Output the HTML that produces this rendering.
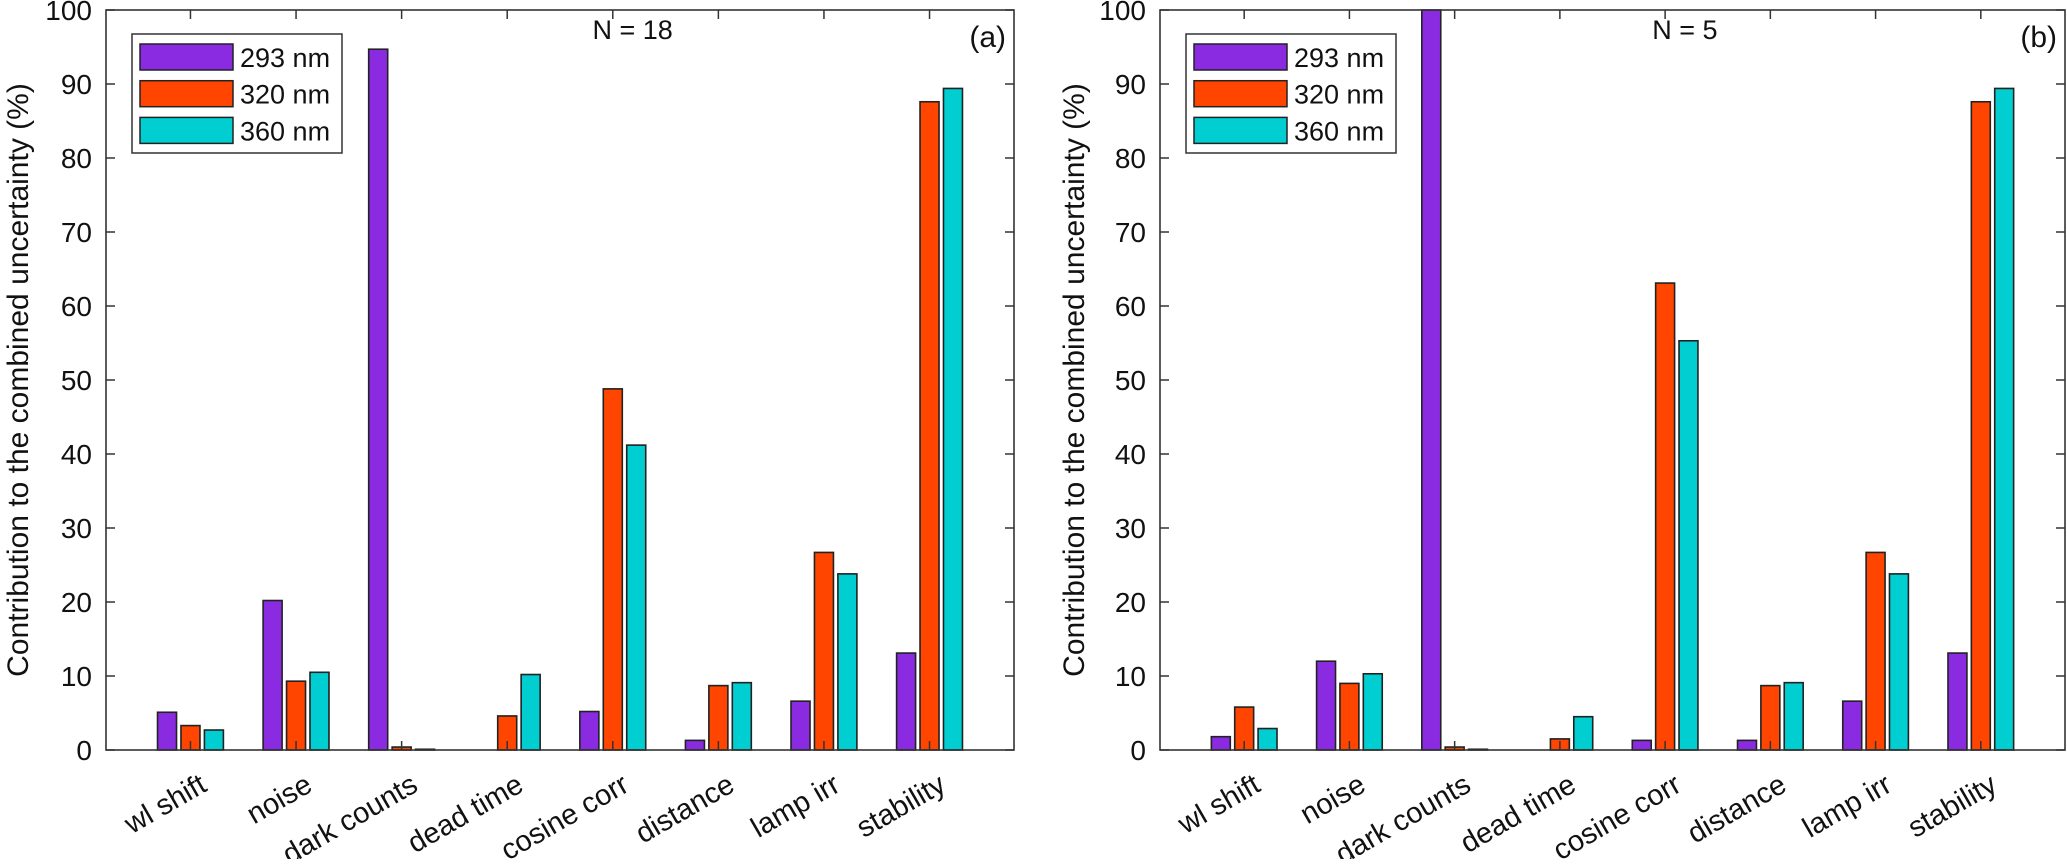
<!DOCTYPE html>
<html><head><meta charset="utf-8"><style>
html,body{margin:0;padding:0;background:#fff;}
svg text{font-family:"Liberation Sans",Arial,sans-serif;fill:#111;}
</style></head><body>
<svg id="chart" width="2067" height="859" viewBox="0 0 2067 859" xmlns="http://www.w3.org/2000/svg"></svg>
<script>
const categories = ["wl shift","noise","dark counts","dead time","cosine corr","distance","lamp irr","stability"];
const seriesNames = ["293 nm","320 nm","360 nm"];
const a293 = [5.1, 20.2, 94.7, 0, 5.2, 1.3, 6.6, 13.1];
const a320 = [3.3, 9.3, 0.4, 4.6, 48.8, 8.7, 26.7, 87.6];
const a360 = [2.7, 10.5, 0.1, 10.2, 41.2, 9.1, 23.8, 89.4];
const b293 = [1.8, 12.0, 100, 0, 1.3, 1.3, 6.6, 13.1];
const b320 = [5.8, 9.0, 0.4, 1.5, 63.1, 8.7, 26.7, 87.6];
const b360 = [2.9, 10.3, 0.1, 4.5, 55.3, 9.1, 23.8, 89.4];
const yTicks = [0,10,20,30,40,50,60,70,80,90,100];
const panelTitles = ["N = 18","N = 5"];
const panelTags = ["(a)","(b)"];

const colors = ["#8a2be2","#ff4500","#00ced1"];
const NS = "http://www.w3.org/2000/svg";
const svgEl = document.getElementById("chart");
function mk(tag, attrs, parent){
  const e = document.createElementNS(NS, tag);
  for (const k in attrs) e.setAttribute(k, attrs[k]);
  (parent||svgEl).appendChild(e);
  return e;
}
const plotTop = 10, plotBot = 750;
function yS(v){ return plotBot - (v/100)*(plotBot-plotTop); }

function panel(idx, x0, x1, series){
  const g = mk("g", {});
  
  
  const w = x1 - x0;
  const xS = c => x0 + (c - 0.2) / 8.6 * w;
  const unit = w / 8.6;
  const off = unit * 0.222, bw = unit * 0.18;
  series.forEach((vals, s) => {
    vals.forEach((v, i) => {
      const cx = xS(i+1) + (s-1)*off;
      const r = mk("rect", {x: cx - bw/2, y: yS(v), width: bw, height: Math.max(0, plotBot - yS(v)), fill: colors[s], stroke: "#222", "stroke-width": 1.6}, g);
      
      
    });
  });
  const box = mk("rect", {x: x0, y: plotTop, width: w, height: plotBot-plotTop, fill: "none", stroke: "#333", "stroke-width": 1.6}, g);
  
  
  yTicks.forEach(t => {
    const y = yS(t);
    mk("line", {x1: x0, x2: x0+9, y1: y, y2: y, stroke: "#333", "stroke-width": 1.5}, g);
    mk("line", {x1: x1, x2: x1-9, y1: y, y2: y, stroke: "#333", "stroke-width": 1.5}, g);
    const tx = mk("text", {x: x0 - 14, y: y + 10, "text-anchor": "end", "font-size": 28}, g);
    tx.textContent = t;
    
    
  });
  categories.forEach((c, i) => {
    const x = xS(i+1);
    mk("line", {x1: x, x2: x, y1: plotBot, y2: plotBot-9, stroke: "#333", "stroke-width": 1.5}, g);
    mk("line", {x1: x, x2: x, y1: plotTop, y2: plotTop+9, stroke: "#333", "stroke-width": 1.5}, g);
    const tx = mk("text", {x: x + 18, y: plotBot + 40, "text-anchor": "end", "font-size": 29, transform: `rotate(-30 ${x+18} ${plotBot+40})`}, g);
    tx.textContent = c;
    
    
  });
  const t1 = mk("text", {x: x0 + 0.58*w, y: 39, "text-anchor": "middle", "font-size": 27}, g);
  t1.textContent = panelTitles[idx];
  
  
  const t2 = mk("text", {x: x1 - 8, y: 47, "text-anchor": "end", "font-size": 30}, g);
  t2.textContent = panelTags[idx];
  
  
  const lg = mk("g", {}, g);
  
  
  const lx = x0 + 26, ly = 34;
  mk("rect", {x: lx, y: ly, width: 210, height: 119, fill: "#fff", stroke: "#333", "stroke-width": 1.5}, lg);
  seriesNames.forEach((n, s) => {
    const yy = ly + 10 + s*36.7;
    const sw = mk("rect", {x: lx + 8, y: yy, width: 93, height: 26, fill: colors[s], stroke: "#222", "stroke-width": 1.5}, lg);
    
    
    const tx = mk("text", {x: lx + 108, y: yy + 23, "font-size": 27}, lg);
    tx.textContent = n;
    
    
  });
  const cy = (plotTop+plotBot)/2, lxp = idx===0 ? 18 : x0 - 86;
  const yl = mk("text", {x: lxp, y: cy + 10, "text-anchor": "middle", "font-size": 30, transform: `rotate(-90 ${lxp} ${cy})`}, g);
  yl.textContent = "Contribution to the combined uncertainty (%)";
  
  
}
panel(0, 106, 1014, [a293, a320, a360]);
panel(1, 1160, 2065, [b293, b320, b360]);
</script>
</body></html>
